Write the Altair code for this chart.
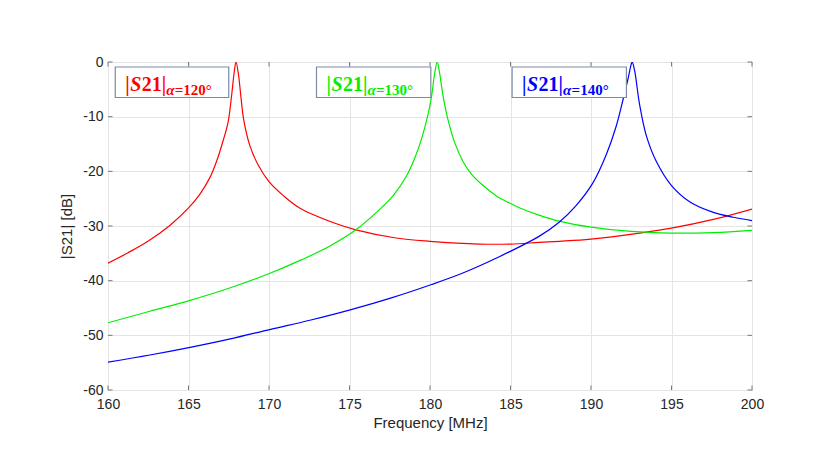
import altair as alt
import pandas as pd

# ---- data ----
red_f = [160.0, 161.24, 162.48, 163.84, 165.0, 165.7, 166.32, 166.74, 167.15, 167.46, 167.69,
         167.85, 167.95, 168.1, 168.26, 168.43, 168.8, 169.32, 170.0, 170.87, 171.9, 174.1,
         175.4, 177.9, 180.0, 183.07, 185.0, 186.77, 188.04, 190.0, 193.02, 195.0, 197.6, 200.0]
red_db = [-36.8, -34.9, -32.8, -29.9, -26.7, -24.2, -21.2, -18.2, -14.4, -11.0, -5.8,
          -1.6, 0.0, -2.2, -6.5, -10.6, -15.2, -18.8, -21.9, -24.4, -26.7, -29.5,
          -30.7, -32.2, -32.8, -33.3, -33.3, -33.0, -32.8, -32.4, -31.3, -30.4, -28.8, -26.9]

green_f = [160.0, 162.6, 165.1, 167.6, 170.1, 172.0, 173.76, 175.4, 176.86, 177.7, 178.53,
           179.05, 179.46, 179.88, 180.1, 180.3, 180.45, 180.59, 180.8, 181.12, 181.54, 182.05,
           182.57, 183.3, 184.13, 185.0, 185.58, 186.77, 188.02, 190.0, 192.5, 195.0, 197.6, 200.0]
green_db = [-47.7, -45.6, -43.6, -41.3, -38.6, -36.2, -33.7, -30.7, -27.0, -24.5, -20.9,
            -17.6, -14.2, -9.6, -6.2, -1.9, 0.0, -1.9, -6.0, -10.6, -14.8, -18.2,
            -20.5, -22.6, -24.5, -25.9, -26.7, -28.0, -29.1, -30.2, -31.0, -31.3, -31.2, -30.8]

blue_f = [160.0, 162.6, 165.1, 167.6, 170.1, 172.6, 175.1, 177.6, 180.1, 182.04, 184.1,
          186.77, 188.02, 189.06, 190.1, 190.94, 191.56, 191.98, 192.29, 192.5, 192.56,
          192.71, 193.02, 193.44, 194.06, 195.0, 196.15, 197.6, 198.85, 200.0]
blue_db = [-54.9, -53.6, -52.2, -50.65, -48.9, -47.2, -45.3, -43.15, -40.7, -38.6, -35.9,
           -31.9, -29.3, -26.3, -22.2, -17.0, -11.8, -7.0, -3.2, -0.4, 0.0,
           -1.6, -7.8, -13.5, -18.2, -22.6, -25.6, -27.5, -28.4, -29.0]

series_names = ["a120", "a130", "a140"]
series_colors = ["#ff0000", "#00ee00", "#0000ff"]
text_colors = ["#ff2020", "#20dd20", "#2b2bee"]

x_ticks = [160, 165, 170, 175, 180, 185, 190, 195, 200]
y_ticks = [-60, -50, -40, -30, -20, -10, 0]

ann_bar = ["|", "|", "|"]
ann_s = ["S", "S", "S"]
ann_num = ["21|", "21|", "21|"]
ann_alpha = ["α", "α", "α"]
ann_sub = ["=120°", "=130°", "=140°"]
ann_left = [160.45, 172.95, 185.1]     # box left edge (MHz)
ann_right = [167.5, 180.05, 192.2]     # box right edge (MHz)

# ---- tables ----
rows = []
for name, fs, ds in zip(series_names, [red_f, green_f, blue_f], [red_db, green_db, blue_db]):
    for f, d in zip(fs, ds):
        rows.append({"s": name, "f": f, "db": d})
lines_df = pd.DataFrame(rows)
xt_df = pd.DataFrame({"f": x_ticks})
yt_df = pd.DataFrame({"db": y_ticks})
ann_df = pd.DataFrame({"s": series_names, "f": ann_left, "f2": ann_right,
                       "bar": ann_bar, "S": ann_s, "num": ann_num,
                       "alpha": ann_alpha, "sub": ann_sub})

W, H = 644, 328
FONT = "Liberation Sans"
SERIF = "Liberation Serif"

xscale = alt.Scale(domain=[160, 200], nice=False, zero=False)
yscale = alt.Scale(domain=[-60, 0], nice=False, zero=False)
xaxis = alt.Axis(values=x_ticks, grid=True, gridColor="#e4e4e4", tickSize=0, domain=False,
                 labelFlush=False,
                 labelFontSize=14, labelColor="#262626", labelFont=FONT, labelPadding=7,
                 titleFont=FONT, titleFontSize=15, titleFontWeight="normal",
                 titleColor="#262626", titlePadding=4)
yaxis = alt.Axis(values=y_ticks, grid=True, gridColor="#e4e4e4", tickSize=0, domain=False,
                 labelFlush=False,
                 labelFontSize=14, labelColor="#262626", labelFont=FONT, labelPadding=5,
                 labelExpr="'' + datum.value",
                 titleFont=FONT, titleFontSize=15, titleFontWeight="normal",
                 titleColor="#262626", titlePadding=8)
XT = "Frequency [MHz]"
YT = "|S21| [dB]"

def X(field="f"):
    return alt.X(f"{field}:Q", scale=xscale, axis=xaxis, title=XT)

def Y(field="db"):
    return alt.Y(f"{field}:Q", scale=yscale, axis=yaxis, title=YT)

color = alt.Color("s:N", scale=alt.Scale(domain=series_names, range=series_colors), legend=None)
tcolor = alt.Color("s:N", scale=alt.Scale(domain=series_names, range=text_colors), legend=None)

lines = alt.Chart(lines_df).mark_line(strokeWidth=1.2, interpolate="catmull-rom", clip=True).encode(
    x=X(), y=Y(), color=color, detail="s:N", order="f:Q")

tick_col = "#7a7a7a"
top_ticks = alt.Chart(xt_df).mark_rule(color=tick_col).encode(
    x=X(), y=alt.value(0), y2=alt.value(4.5))
bot_ticks = alt.Chart(xt_df).mark_rule(color=tick_col).encode(
    x=X(), y=alt.value(H), y2=alt.value(H - 4.5))
left_ticks = alt.Chart(yt_df).mark_rule(color=tick_col).encode(
    y=Y(), x=alt.value(0), x2=alt.value(4.5))
right_ticks = alt.Chart(yt_df).mark_rule(color=tick_col).encode(
    y=Y(), x=alt.value(W), x2=alt.value(W - 4.5))

boxes = alt.Chart(ann_df).mark_rect(fill="white", stroke="#7d8aa5", strokeWidth=1.2).encode(
    x=X(), x2="f2:Q", y=alt.value(5), y2=alt.value(35.5))


def txt(field, dx, size, y, style="normal"):
    return alt.Chart(ann_df).mark_text(align="left", baseline="alphabetic", dx=dx,
                                       font=SERIF, fontSize=size, fontWeight="bold",
                                       fontStyle=style).encode(
        x=X(), y=alt.value(y), text=f"{field}:N", color=tcolor)


t_bar = txt("bar", 10, 20, 28.5)
t_s = txt("S", 15, 20, 28.5, "italic")
t_num = txt("num", 26.5, 20, 28.5)
t_alpha = txt("alpha", 51, 15, 33, "italic")
t_sub = txt("sub", 59.5, 15, 33)

chart = alt.layer(lines, top_ticks, bot_ticks, left_ticks, right_ticks,
                  boxes, t_bar, t_s, t_num, t_alpha, t_sub).properties(
    width=W, height=H,
    autosize=alt.AutoSizeParams(type="none"),
    padding={"left": 100, "top": 54, "right": 70, "bottom": 60},
    background="white",
).configure_view(stroke="#7a7a7a", strokeWidth=1)

chart.save("out.html", embed_options={"renderer": "svg", "actions": False})
